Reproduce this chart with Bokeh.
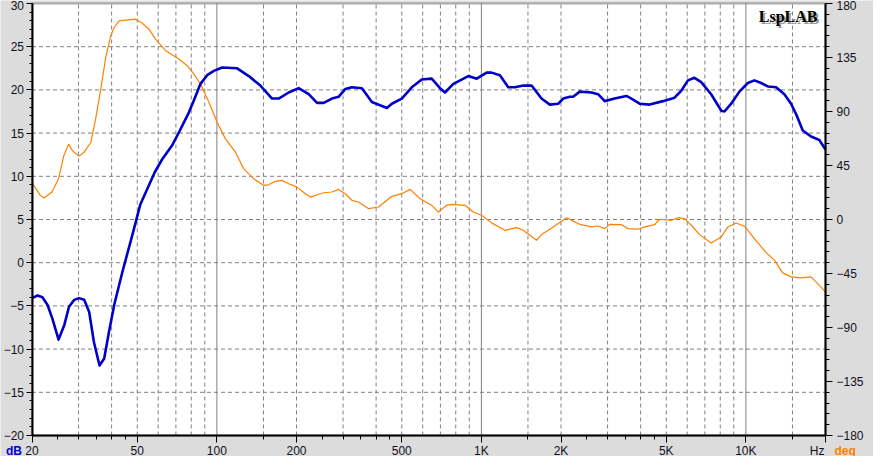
import math
from bokeh.plotting import figure
from bokeh.models import Range1d, LinearAxis, LogAxis, FixedTicker, Label, BoxAnnotation
from bokeh.embed import file_html
from bokeh.resources import INLINE

# ---------------- data ----------------
spl_freq = [20, 21, 21.9, 22.9, 23.9, 25.2, 26.5, 27.6, 28.9, 30.1, 31.5, 32.9, 34.3, 36.0,
            37.5, 39.1, 40.9, 43.9, 47.9, 51.3, 55.4, 58.3, 62.2, 67.8, 71.9, 78.4, 81.9,
            86.7, 91.9, 97.4, 104.7, 119.3, 132, 146, 161.7, 171.3, 186.9, 203.8, 222.4,
            239.1, 253.4, 272.3, 288.5, 305.6, 324, 353.4, 385.5, 439.3, 458.8, 500.2,
            545.6, 595.1, 649, 697.6, 728.6, 783.7, 892.8, 959.7, 1047, 1093, 1175, 1264,
            1339, 1440, 1548, 1688, 1814, 1952, 2039, 2159, 2224, 2354, 2607, 2762, 2926,
            3191, 3534, 3691, 3966, 4326, 4862, 5375, 5697, 6040, 6394, 6778, 7392, 8066,
            8300, 8799, 9454, 10170, 10770, 11420, 12110, 13010, 13980, 14820, 15480,
            16410, 17630, 18950, 20000]
spl_db = [-4.1, -3.8, -4.0, -4.9, -6.5, -8.9, -7.2, -5.1, -4.3, -4.1, -4.3, -5.7, -9.2, -11.9,
          -11.1, -8.0, -4.9, -1.1, 3.2, 6.7, 9.0, 10.5, 12.0, 13.6, 15.1, 17.4, 18.8,
          20.7, 21.7, 22.2, 22.6, 22.5, 21.6, 20.5, 19.0, 19.0, 19.7, 20.2, 19.5,
          18.5, 18.5, 19.0, 19.2, 20.1, 20.3, 20.2, 18.6, 17.9, 18.4, 19.0,
          20.3, 21.2, 21.3, 20.2, 19.7, 20.7, 21.6, 21.3, 22.0, 22.0, 21.7, 20.3,
          20.3, 20.5, 20.5, 19.0, 18.3, 18.4, 19.0, 19.2, 19.2, 19.8, 19.7, 19.5, 18.7,
          19.0, 19.3, 19.0, 18.4, 18.3, 18.7, 19.1, 19.9, 21.1, 21.4, 20.9, 19.5, 17.6,
          17.5, 18.4, 19.8, 20.8, 21.1, 20.8, 20.4, 20.3, 19.5, 18.4, 17.2,
          15.3, 14.6, 14.2, 13.1]

phase_freq = [20, 21.5, 22.2, 23.8, 25.2, 26.4, 27.5, 28.4, 30.1, 31.5, 33.4, 34.8, 36.4, 38.0,
              39.7, 40.9, 42.7, 49.3, 52.2, 55.4, 58.6, 64.0, 71.9, 77.3, 81.9, 86.7, 93.3,
              100.2, 107.7, 117.5, 126.4, 137.9, 150.4, 157.1, 166.4, 176.3, 186.9, 200.9,
              216, 225.6, 242.6, 253.4, 272.3, 288.5, 305.6, 324, 343.4, 374.6, 408.6,
              458.8, 500.2, 537.8, 586.4, 649, 688, 739.3, 772.2, 866.9, 932.4, 1002, 1093,
              1227, 1359, 1440, 1616, 1688, 1869, 2098, 2191, 2354, 2607, 2762, 2926, 3056,
              3383, 3587, 3912, 4142, 4519, 4719, 5224, 5537, 5864, 6215, 6682, 7392, 8066,
              8547, 9190, 9874, 10770, 11930, 12820, 13790, 14820, 16170, 17630, 18410, 20000]
phase_deg = [30.6, 20.1, 17.9, 22.9, 33.9, 53.4, 62.8, 57.5, 52.8, 56.1, 64.4, 83.8, 108.7, 135.1,
             153.1, 160.0, 165.6, 166.9, 163.6, 158.6, 150.3, 140.7, 133.7, 128.2, 121.2, 112.9, 97.7,
             81.1, 67.2, 56.1, 42.2, 33.9, 28.4, 28.9, 31.8, 32.6, 29.8, 27.0,
             21.5, 18.7, 21.0, 22.3, 22.9, 25.1, 21.5, 16.0, 14.6, 9.0, 10.4,
             19.3, 21.5, 25.1, 17.3, 11.8, 6.2, 11.8, 12.6, 11.8, 6.2, 3.5, -2.8,
             -9.0, -6.8, -9.0, -17.3, -12.6, -6.2, 1.5, -0.7, -4.0, -6.2, -5.4, -7.6, -4.0,
             -4.3, -7.6, -8.1, -6.2, -4.3, 0.2, -0.7, 1.5, 0.7, -4.8, -12.6, -19.5, -14.5,
             -6.2, -2.9, -5.6, -16.0, -27.6, -33.9, -44.5, -47.8, -48.6, -47.8, -52.0, -60.3]

F_MIN, F_MAX = 20, 20000
DB_MIN, DB_MAX = -20, 30
DEG_MIN, DEG_MAX = -180, 180

freq_major = [20, 50, 100, 200, 500, 1000, 2000, 5000, 10000, 20000]
freq_labels = ["20", "50", "100", "200", "500", "1K", "2K", "5K", "10K", ""]
freq_minor = [25, 30, 35, 40, 45, 150, 250, 300, 350, 400, 450,
              1500, 2500, 3000, 3500, 4000, 4500, 15000]
grid_dashed_freq = [30, 40, 50, 60, 70, 80, 90, 150, 200, 300, 400, 500, 600, 700, 800, 900,
                    1500, 2000, 3000, 4000, 5000, 6000, 7000, 8000, 9000, 15000]
grid_solid_freq = [100, 1000, 10000]
db_major = list(range(-20, 31, 5))
db_minor = list(range(-20, 31, 1))
db_grid = list(range(-15, 30, 5))
deg_major = list(range(-180, 181, 45))
deg_minor = list(range(-180, 181, 9))

assert len(spl_freq) == len(spl_db)
assert len(phase_freq) == len(phase_deg)

# ---------------- layout (pixels inside the figure) ----------------
W, H = 873, 456
PL, PR, PT, PB = 31.5, 825.0, 3.0, 435.0     # plot-area box

dec_px = (PR - PL) / math.log10(F_MAX / F_MIN)
x_lo = F_MIN * 10 ** (-PL / dec_px)
x_hi = F_MAX * 10 ** ((W - PR) / dec_px)
db_px = (PB - PT) / (DB_MAX - DB_MIN)
y_lo = DB_MIN - (H - PB) / db_px
y_hi = DB_MAX + PT / db_px
deg_px = (PB - PT) / (DEG_MAX - DEG_MIN)
d_lo = DEG_MIN - (H - PB) / deg_px
d_hi = DEG_MAX + PT / deg_px

FONT = "Liberation Sans"
BG = "#dcdcdc"
TXT = "#101020"
GRID = "#808080"

p = figure(width=W, height=H, x_axis_type="log", x_axis_location=None, y_axis_location=None,
           x_range=Range1d(x_lo, x_hi), y_range=Range1d(y_lo, y_hi),
           output_backend="svg", toolbar_location=None, min_border=0,
           background_fill_color=BG, border_fill_color=BG, outline_line_color=None)
p.extra_y_ranges = {"deg": Range1d(d_lo, d_hi)}
p.grid.visible = False

# white plot area with black frame
p.add_layout(BoxAnnotation(left=F_MIN, right=F_MAX, bottom=DB_MIN, top=DB_MAX,
                           fill_color="white", fill_alpha=1.0, line_color="black",
                           line_width=2, level="image"))

# grid lines
p.segment(x0=grid_dashed_freq, x1=grid_dashed_freq, y0=DB_MIN, y1=DB_MAX,
          line_color=GRID, line_width=1, line_dash="4 3", level="underlay")
p.segment(x0=grid_solid_freq, x1=grid_solid_freq, y0=DB_MIN, y1=DB_MAX,
          line_color=GRID, line_width=1, level="underlay")
p.segment(x0=F_MIN, x1=F_MAX, y0=db_grid, y1=db_grid,
          line_color=GRID, line_width=1, line_dash="4 3", level="underlay")


def style_axis(ax, tick_out, minor_out, standoff):
    ax.axis_line_color = "black"
    ax.axis_line_width = 2
    ax.major_tick_line_color = "black"
    ax.minor_tick_line_color = "black"
    ax.major_tick_in = 0
    ax.minor_tick_in = 0
    ax.major_tick_out = tick_out
    ax.minor_tick_out = minor_out
    ax.major_label_standoff = standoff
    ax.major_label_text_font = FONT
    ax.major_label_text_font_size = "12px"
    ax.major_label_text_color = TXT


xax = LogAxis(fixed_location=DB_MIN, bounds=(F_MIN, F_MAX),
              ticker=FixedTicker(ticks=freq_major, minor_ticks=freq_minor),
              major_label_overrides={f: l for f, l in zip(freq_major, freq_labels)})
style_axis(xax, 7, 4, 1)
p.add_layout(xax, "below")

yax = LinearAxis(fixed_location=F_MIN, bounds=(DB_MIN, DB_MAX),
                 ticker=FixedTicker(ticks=db_major, minor_ticks=db_minor))
style_axis(yax, 6, 3, 2)
p.add_layout(yax, "left")

rax = LinearAxis(y_range_name="deg", fixed_location=F_MAX, bounds=(DEG_MIN, DEG_MAX),
                 ticker=FixedTicker(ticks=deg_major, minor_ticks=deg_minor))
style_axis(rax, 7, 4, 4)
p.add_layout(rax, "right")

# curves
p.line(phase_freq, phase_deg, y_range_name="deg", line_color="#ff8000", line_width=1.2)
p.line(spl_freq, spl_db, line_color="#0000c8", line_width=2.6, line_join="round")

# unit captions
p.add_layout(Label(x=F_MIN, y=DB_MIN, x_offset=-10, y_offset=-8, text="dB", text_align="right",
                   text_baseline="top", text_font=FONT, text_font_size="12px",
                   text_font_style="bold", text_color="#0000c8"))
p.add_layout(Label(x=F_MAX, y=DB_MIN, x_offset=-1, y_offset=-8, text="Hz", text_align="right",
                   text_baseline="top", text_font=FONT, text_font_size="12px",
                   text_color=TXT))
p.add_layout(Label(x=F_MAX, y=DB_MIN, x_offset=9, y_offset=-8, text="deg", text_align="left",
                   text_baseline="top", text_font=FONT, text_font_size="12px",
                   text_font_style="bold", text_color="#ff8000"))

# watermark
p.add_layout(Label(x=F_MAX, y=DB_MAX, x_offset=-6, y_offset=-6, text="LspLAB", text_align="right",
                   text_baseline="top", text_font="Liberation Serif", text_font_size="16px",
                   text_font_style="bold", text_color="#9a9a9a"))
p.add_layout(Label(x=F_MAX, y=DB_MAX, x_offset=-8, y_offset=-4, text="LspLAB", text_align="right",
                   text_baseline="top", text_font="Liberation Serif", text_font_size="16px",
                   text_font_style="bold", text_color="black"))

open("out.html", "w").write(file_html(p, INLINE))
